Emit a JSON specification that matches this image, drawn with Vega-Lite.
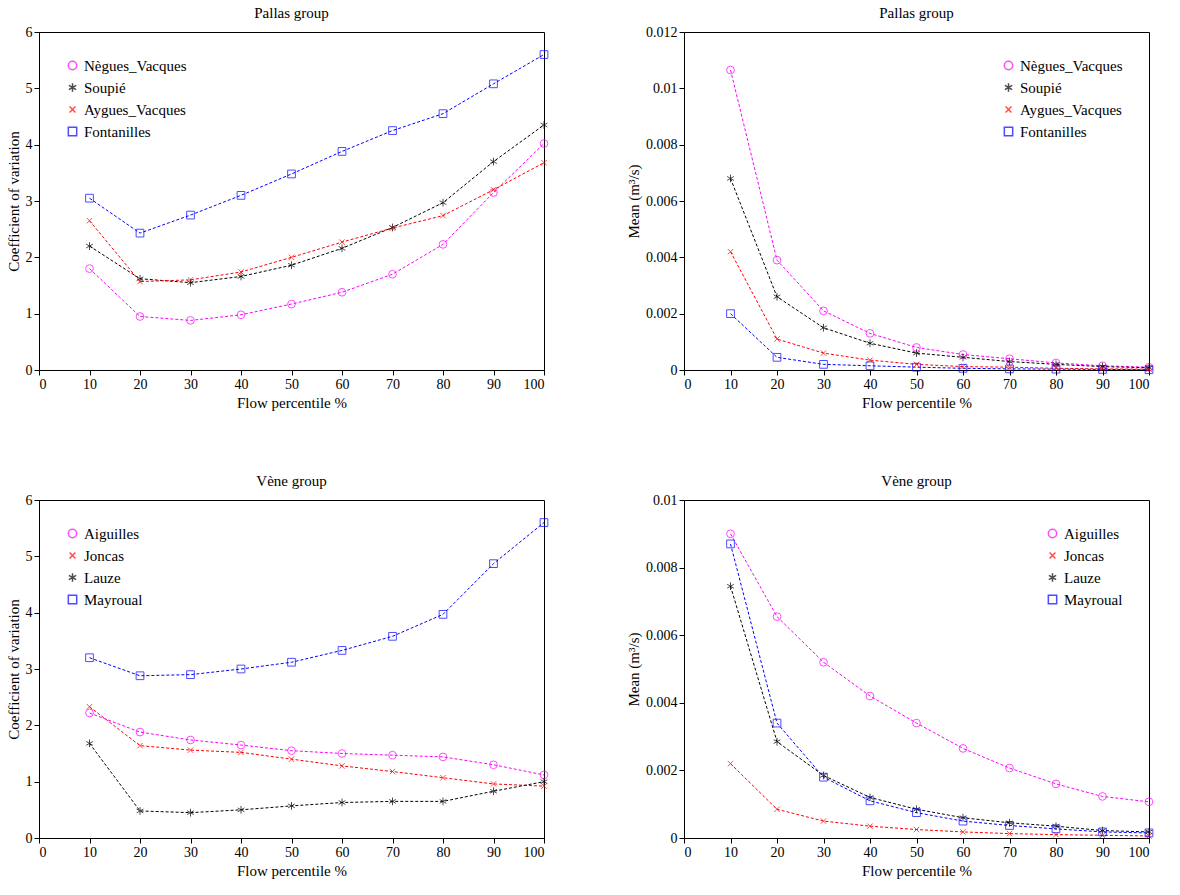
{
  "$schema": "https://vega.github.io/schema/vega-lite/v6.json",
  "background": "white",
  "padding": {"left": 5, "top": 5, "right": 15, "bottom": 5},
  "config": {
    "font": "Liberation Serif",
    "view": {"stroke": "black", "strokeWidth": 1},
    "axis": {"grid": false, "domainColor": "black", "tickColor": "black", "labelColor": "black", "titleColor": "black", "labelFontSize": 14, "titleFontSize": 15, "titleFontWeight": "normal", "tickDirection": "in"},
    "title": {"fontSize": 15, "fontWeight": "normal", "color": "black"},
    "legend": {"labelFontSize": 15, "labelColor": "black", "symbolSize": 70, "padding": 8, "rowPadding": 6}
  },
  "spacing": {"row": 62, "column": 75},
  "columns": 2,
  "datasets": {
    "d": [
      {"p":"tl","s":"Nègues_Vacques","x":10,"y":1.8},{"p":"tl","s":"Nègues_Vacques","x":20,"y":0.95},{"p":"tl","s":"Nègues_Vacques","x":30,"y":0.88},{"p":"tl","s":"Nègues_Vacques","x":40,"y":0.98},{"p":"tl","s":"Nègues_Vacques","x":50,"y":1.17},{"p":"tl","s":"Nègues_Vacques","x":60,"y":1.38},{"p":"tl","s":"Nègues_Vacques","x":70,"y":1.7},{"p":"tl","s":"Nègues_Vacques","x":80,"y":2.23},{"p":"tl","s":"Nègues_Vacques","x":90,"y":3.15},{"p":"tl","s":"Nègues_Vacques","x":100,"y":4.02},
      {"p":"tl","s":"Soupié","x":10,"y":2.2},{"p":"tl","s":"Soupié","x":20,"y":1.62},{"p":"tl","s":"Soupié","x":30,"y":1.55},{"p":"tl","s":"Soupié","x":40,"y":1.66},{"p":"tl","s":"Soupié","x":50,"y":1.86},{"p":"tl","s":"Soupié","x":60,"y":2.16},{"p":"tl","s":"Soupié","x":70,"y":2.53},{"p":"tl","s":"Soupié","x":80,"y":2.97},{"p":"tl","s":"Soupié","x":90,"y":3.7},{"p":"tl","s":"Soupié","x":100,"y":4.35},
      {"p":"tl","s":"Aygues_Vacques","x":10,"y":2.65},{"p":"tl","s":"Aygues_Vacques","x":20,"y":1.57},{"p":"tl","s":"Aygues_Vacques","x":30,"y":1.6},{"p":"tl","s":"Aygues_Vacques","x":40,"y":1.74},{"p":"tl","s":"Aygues_Vacques","x":50,"y":2.0},{"p":"tl","s":"Aygues_Vacques","x":60,"y":2.27},{"p":"tl","s":"Aygues_Vacques","x":70,"y":2.52},{"p":"tl","s":"Aygues_Vacques","x":80,"y":2.74},{"p":"tl","s":"Aygues_Vacques","x":90,"y":3.2},{"p":"tl","s":"Aygues_Vacques","x":100,"y":3.68},
      {"p":"tl","s":"Fontanilles","x":10,"y":3.05},{"p":"tl","s":"Fontanilles","x":20,"y":2.43},{"p":"tl","s":"Fontanilles","x":30,"y":2.75},{"p":"tl","s":"Fontanilles","x":40,"y":3.1},{"p":"tl","s":"Fontanilles","x":50,"y":3.48},{"p":"tl","s":"Fontanilles","x":60,"y":3.88},{"p":"tl","s":"Fontanilles","x":70,"y":4.25},{"p":"tl","s":"Fontanilles","x":80,"y":4.55},{"p":"tl","s":"Fontanilles","x":90,"y":5.08},{"p":"tl","s":"Fontanilles","x":100,"y":5.6},

      {"p":"tr","s":"Nègues_Vacques","x":10,"y":0.01065},{"p":"tr","s":"Nègues_Vacques","x":20,"y":0.0039},{"p":"tr","s":"Nègues_Vacques","x":30,"y":0.0021},{"p":"tr","s":"Nègues_Vacques","x":40,"y":0.0013},{"p":"tr","s":"Nègues_Vacques","x":50,"y":0.0008},{"p":"tr","s":"Nègues_Vacques","x":60,"y":0.00055},{"p":"tr","s":"Nègues_Vacques","x":70,"y":0.0004},{"p":"tr","s":"Nègues_Vacques","x":80,"y":0.00025},{"p":"tr","s":"Nègues_Vacques","x":90,"y":0.00015},{"p":"tr","s":"Nègues_Vacques","x":100,"y":0.0001},
      {"p":"tr","s":"Soupié","x":10,"y":0.0068},{"p":"tr","s":"Soupié","x":20,"y":0.0026},{"p":"tr","s":"Soupié","x":30,"y":0.0015},{"p":"tr","s":"Soupié","x":40,"y":0.00095},{"p":"tr","s":"Soupié","x":50,"y":0.0006},{"p":"tr","s":"Soupié","x":60,"y":0.00045},{"p":"tr","s":"Soupié","x":70,"y":0.0003},{"p":"tr","s":"Soupié","x":80,"y":0.0002},{"p":"tr","s":"Soupié","x":90,"y":0.00012},{"p":"tr","s":"Soupié","x":100,"y":0.00008},
      {"p":"tr","s":"Aygues_Vacques","x":10,"y":0.0042},{"p":"tr","s":"Aygues_Vacques","x":20,"y":0.0011},{"p":"tr","s":"Aygues_Vacques","x":30,"y":0.0006},{"p":"tr","s":"Aygues_Vacques","x":40,"y":0.00035},{"p":"tr","s":"Aygues_Vacques","x":50,"y":0.0002},{"p":"tr","s":"Aygues_Vacques","x":60,"y":0.00012},{"p":"tr","s":"Aygues_Vacques","x":70,"y":0.0001},{"p":"tr","s":"Aygues_Vacques","x":80,"y":0.00006},{"p":"tr","s":"Aygues_Vacques","x":90,"y":0.00004},{"p":"tr","s":"Aygues_Vacques","x":100,"y":0.00003},
      {"p":"tr","s":"Fontanilles","x":10,"y":0.002},{"p":"tr","s":"Fontanilles","x":20,"y":0.00045},{"p":"tr","s":"Fontanilles","x":30,"y":0.0002},{"p":"tr","s":"Fontanilles","x":40,"y":0.00015},{"p":"tr","s":"Fontanilles","x":50,"y":0.0001},{"p":"tr","s":"Fontanilles","x":60,"y":0.00006},{"p":"tr","s":"Fontanilles","x":70,"y":0.00004},{"p":"tr","s":"Fontanilles","x":80,"y":0.00003},{"p":"tr","s":"Fontanilles","x":90,"y":0.00002},{"p":"tr","s":"Fontanilles","x":100,"y":0.00001},

      {"p":"bl","s":"Aiguilles","x":10,"y":2.22},{"p":"bl","s":"Aiguilles","x":20,"y":1.88},{"p":"bl","s":"Aiguilles","x":30,"y":1.74},{"p":"bl","s":"Aiguilles","x":40,"y":1.65},{"p":"bl","s":"Aiguilles","x":50,"y":1.55},{"p":"bl","s":"Aiguilles","x":60,"y":1.5},{"p":"bl","s":"Aiguilles","x":70,"y":1.47},{"p":"bl","s":"Aiguilles","x":80,"y":1.44},{"p":"bl","s":"Aiguilles","x":90,"y":1.3},{"p":"bl","s":"Aiguilles","x":100,"y":1.12},
      {"p":"bl","s":"Joncas","x":10,"y":2.33},{"p":"bl","s":"Joncas","x":20,"y":1.64},{"p":"bl","s":"Joncas","x":30,"y":1.56},{"p":"bl","s":"Joncas","x":40,"y":1.52},{"p":"bl","s":"Joncas","x":50,"y":1.4},{"p":"bl","s":"Joncas","x":60,"y":1.28},{"p":"bl","s":"Joncas","x":70,"y":1.18},{"p":"bl","s":"Joncas","x":80,"y":1.07},{"p":"bl","s":"Joncas","x":90,"y":0.96},{"p":"bl","s":"Joncas","x":100,"y":0.92},
      {"p":"bl","s":"Lauze","x":10,"y":1.68},{"p":"bl","s":"Lauze","x":20,"y":0.48},{"p":"bl","s":"Lauze","x":30,"y":0.45},{"p":"bl","s":"Lauze","x":40,"y":0.5},{"p":"bl","s":"Lauze","x":50,"y":0.57},{"p":"bl","s":"Lauze","x":60,"y":0.63},{"p":"bl","s":"Lauze","x":70,"y":0.65},{"p":"bl","s":"Lauze","x":80,"y":0.65},{"p":"bl","s":"Lauze","x":90,"y":0.83},{"p":"bl","s":"Lauze","x":100,"y":1.0},
      {"p":"bl","s":"Mayroual","x":10,"y":3.2},{"p":"bl","s":"Mayroual","x":20,"y":2.88},{"p":"bl","s":"Mayroual","x":30,"y":2.9},{"p":"bl","s":"Mayroual","x":40,"y":3.0},{"p":"bl","s":"Mayroual","x":50,"y":3.12},{"p":"bl","s":"Mayroual","x":60,"y":3.33},{"p":"bl","s":"Mayroual","x":70,"y":3.58},{"p":"bl","s":"Mayroual","x":80,"y":3.97},{"p":"bl","s":"Mayroual","x":90,"y":4.87},{"p":"bl","s":"Mayroual","x":100,"y":5.6},

      {"p":"br","s":"Aiguilles","x":10,"y":0.009},{"p":"br","s":"Aiguilles","x":20,"y":0.00655},{"p":"br","s":"Aiguilles","x":30,"y":0.0052},{"p":"br","s":"Aiguilles","x":40,"y":0.0042},{"p":"br","s":"Aiguilles","x":50,"y":0.0034},{"p":"br","s":"Aiguilles","x":60,"y":0.00265},{"p":"br","s":"Aiguilles","x":70,"y":0.00207},{"p":"br","s":"Aiguilles","x":80,"y":0.0016},{"p":"br","s":"Aiguilles","x":90,"y":0.00123},{"p":"br","s":"Aiguilles","x":100,"y":0.00107},
      {"p":"br","s":"Joncas","x":10,"y":0.0022},{"p":"br","s":"Joncas","x":20,"y":0.00085},{"p":"br","s":"Joncas","x":30,"y":0.0005},{"p":"br","s":"Joncas","x":40,"y":0.00035},{"p":"br","s":"Joncas","x":50,"y":0.00025},{"p":"br","s":"Joncas","x":60,"y":0.00018},{"p":"br","s":"Joncas","x":70,"y":0.00013},{"p":"br","s":"Joncas","x":80,"y":0.0001},{"p":"br","s":"Joncas","x":90,"y":0.00008},{"p":"br","s":"Joncas","x":100,"y":0.00006},
      {"p":"br","s":"Lauze","x":10,"y":0.00745},{"p":"br","s":"Lauze","x":20,"y":0.00285},{"p":"br","s":"Lauze","x":30,"y":0.00185},{"p":"br","s":"Lauze","x":40,"y":0.0012},{"p":"br","s":"Lauze","x":50,"y":0.00085},{"p":"br","s":"Lauze","x":60,"y":0.0006},{"p":"br","s":"Lauze","x":70,"y":0.00045},{"p":"br","s":"Lauze","x":80,"y":0.00035},{"p":"br","s":"Lauze","x":90,"y":0.00022},{"p":"br","s":"Lauze","x":100,"y":0.00018},
      {"p":"br","s":"Mayroual","x":10,"y":0.0087},{"p":"br","s":"Mayroual","x":20,"y":0.0034},{"p":"br","s":"Mayroual","x":30,"y":0.0018},{"p":"br","s":"Mayroual","x":40,"y":0.0011},{"p":"br","s":"Mayroual","x":50,"y":0.00075},{"p":"br","s":"Mayroual","x":60,"y":0.0005},{"p":"br","s":"Mayroual","x":70,"y":0.00037},{"p":"br","s":"Mayroual","x":80,"y":0.00027},{"p":"br","s":"Mayroual","x":90,"y":0.00018},{"p":"br","s":"Mayroual","x":100,"y":0.00015}
    ]
  },
  "data": {"name": "d"},
  "resolve": {"scale": {"color": "independent", "shape": "independent", "y": "independent", "x": "independent"}, "legend": {"color": "independent", "shape": "independent"}},
  "concat": [
    {
      "title": "Pallas group", "width": 505, "height": 338,
      "transform": [{"filter": "datum.p == 'tl'"}],
      "encoding": {
        "x": {"field": "x", "type": "quantitative", "title": "Flow percentile %", "scale": {"domain": [0, 100], "nice": false}, "axis": {"values": [0,10,20,30,40,50,60,70,80,90,100]}},
        "y": {"field": "y", "type": "quantitative", "title": "Coefficient of variation", "scale": {"domain": [0, 6], "nice": false}, "axis": {"tickCount": 6}},
        "color": {"field": "s", "type": "nominal", "title": null, "scale": {"domain": ["Nègues_Vacques","Soupié","Aygues_Vacques","Fontanilles"], "range": ["#ff00ff","#000000","#ff0000","#0000ff"]}, "legend": {"orient": "top-left"}}
      },
      "layer": [
        {"mark": {"type": "line", "strokeDash": [3, 2], "strokeWidth": 1}},
        {"mark": {"type": "point", "filled": false, "strokeWidth": 1, "size": 60}, "encoding": {
          "shape": {"field": "s", "type": "nominal", "title": null, "scale": {"domain": ["Nègues_Vacques","Soupié","Aygues_Vacques","Fontanilles"], "range": ["circle","M0,-1L0,1M-0.87,-0.5L0.87,0.5M-0.87,0.5L0.87,-0.5","M-0.7,-0.7L0.7,0.7M-0.7,0.7L0.7,-0.7","square"]}, "legend": {"orient": "top-left"}}
        }}
      ]
    },
    {
      "title": "Pallas group", "width": 465, "height": 338,
      "transform": [{"filter": "datum.p == 'tr'"}],
      "encoding": {
        "x": {"field": "x", "type": "quantitative", "title": "Flow percentile %", "scale": {"domain": [0, 100], "nice": false}, "axis": {"values": [0,10,20,30,40,50,60,70,80,90,100]}},
        "y": {"field": "y", "type": "quantitative", "title": "Mean (m³/s)", "scale": {"domain": [0, 0.012], "nice": false}, "axis": {"values": [0,0.002,0.004,0.006,0.008,0.01,0.012], "format": "~g"}},
        "color": {"field": "s", "type": "nominal", "title": null, "scale": {"domain": ["Nègues_Vacques","Soupié","Aygues_Vacques","Fontanilles"], "range": ["#ff00ff","#000000","#ff0000","#0000ff"]}, "legend": {"orient": "top-right"}}
      },
      "layer": [
        {"mark": {"type": "line", "strokeDash": [3, 2], "strokeWidth": 1}},
        {"mark": {"type": "point", "filled": false, "strokeWidth": 1, "size": 60}, "encoding": {
          "shape": {"field": "s", "type": "nominal", "title": null, "scale": {"domain": ["Nègues_Vacques","Soupié","Aygues_Vacques","Fontanilles"], "range": ["circle","M0,-1L0,1M-0.87,-0.5L0.87,0.5M-0.87,0.5L0.87,-0.5","M-0.7,-0.7L0.7,0.7M-0.7,0.7L0.7,-0.7","square"]}, "legend": {"orient": "top-right"}}
        }}
      ]
    },
    {
      "title": "Vène group", "width": 505, "height": 338,
      "transform": [{"filter": "datum.p == 'bl'"}],
      "encoding": {
        "x": {"field": "x", "type": "quantitative", "title": "Flow percentile %", "scale": {"domain": [0, 100], "nice": false}, "axis": {"values": [0,10,20,30,40,50,60,70,80,90,100]}},
        "y": {"field": "y", "type": "quantitative", "title": "Coefficient of variation", "scale": {"domain": [0, 6], "nice": false}, "axis": {"tickCount": 6}},
        "color": {"field": "s", "type": "nominal", "title": null, "scale": {"domain": ["Aiguilles","Joncas","Lauze","Mayroual"], "range": ["#ff00ff","#ff0000","#000000","#0000ff"]}, "legend": {"orient": "top-left"}}
      },
      "layer": [
        {"mark": {"type": "line", "strokeDash": [3, 2], "strokeWidth": 1}},
        {"mark": {"type": "point", "filled": false, "strokeWidth": 1, "size": 60}, "encoding": {
          "shape": {"field": "s", "type": "nominal", "title": null, "scale": {"domain": ["Aiguilles","Joncas","Lauze","Mayroual"], "range": ["circle","M-0.7,-0.7L0.7,0.7M-0.7,0.7L0.7,-0.7","M0,-1L0,1M-0.87,-0.5L0.87,0.5M-0.87,0.5L0.87,-0.5","square"]}, "legend": {"orient": "top-left"}}
        }}
      ]
    },
    {
      "title": "Vène group", "width": 465, "height": 338,
      "transform": [{"filter": "datum.p == 'br'"}],
      "encoding": {
        "x": {"field": "x", "type": "quantitative", "title": "Flow percentile %", "scale": {"domain": [0, 100], "nice": false}, "axis": {"values": [0,10,20,30,40,50,60,70,80,90,100]}},
        "y": {"field": "y", "type": "quantitative", "title": "Mean (m³/s)", "scale": {"domain": [0, 0.01], "nice": false}, "axis": {"values": [0,0.002,0.004,0.006,0.008,0.01], "format": "~g"}},
        "color": {"field": "s", "type": "nominal", "title": null, "scale": {"domain": ["Aiguilles","Joncas","Lauze","Mayroual"], "range": ["#ff00ff","#ff0000","#000000","#0000ff"]}, "legend": {"orient": "top-right"}}
      },
      "layer": [
        {"mark": {"type": "line", "strokeDash": [3, 2], "strokeWidth": 1}},
        {"mark": {"type": "point", "filled": false, "strokeWidth": 1, "size": 60}, "encoding": {
          "shape": {"field": "s", "type": "nominal", "title": null, "scale": {"domain": ["Aiguilles","Joncas","Lauze","Mayroual"], "range": ["circle","M-0.7,-0.7L0.7,0.7M-0.7,0.7L0.7,-0.7","M0,-1L0,1M-0.87,-0.5L0.87,0.5M-0.87,0.5L0.87,-0.5","square"]}, "legend": {"orient": "top-right"}}
        }}
      ]
    }
  ]
}
